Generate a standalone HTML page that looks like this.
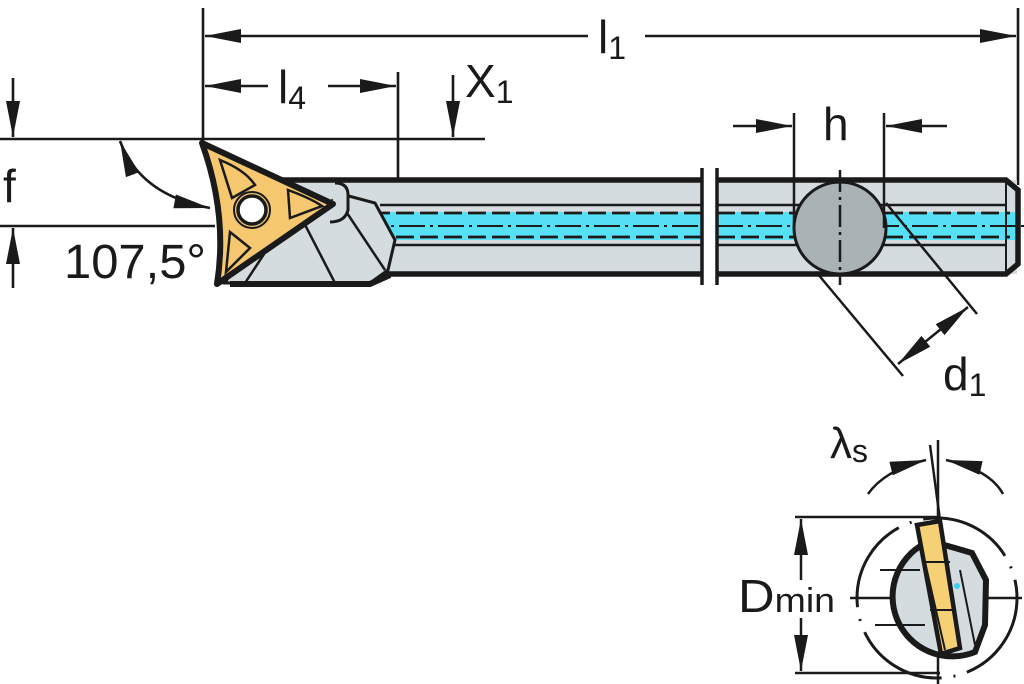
<!DOCTYPE html>
<html><head><meta charset="utf-8"><style>
html,body{margin:0;padding:0;background:#fff;}
svg{display:block;}
text{font-family:"Liberation Sans",sans-serif;fill:#1a1a1a;}
</style></head><body>
<svg width="1024" height="684" viewBox="0 0 1024 684" xmlns="http://www.w3.org/2000/svg">
<defs>
<marker id="aw" viewBox="0 0 36 14" refX="36" refY="7" markerWidth="36" markerHeight="14" markerUnits="userSpaceOnUse" orient="auto-start-reverse"><path d="M0,0 L36,7 L0,14 z" fill="#1a1a1a"/></marker>
</defs>
<g stroke="#1a1a1a" fill="none" stroke-width="2.6">
<line x1="203" y1="8" x2="203" y2="145"/>
<line x1="1018" y1="8" x2="1018" y2="185"/>
<line x1="205" y1="36" x2="588" y2="36" marker-start="url(#aw)"/>
<line x1="645" y1="36" x2="1016" y2="36" marker-end="url(#aw)"/>
<line x1="398" y1="72" x2="398" y2="240"/>
<line x1="205" y1="86" x2="268" y2="86" marker-start="url(#aw)"/>
<line x1="328" y1="86" x2="396" y2="86" marker-end="url(#aw)"/>
<line x1="453" y1="75" x2="453" y2="137" marker-end="url(#aw)"/>
<line x1="453" y1="243" x2="453" y2="183" marker-end="url(#aw)"/>
<line x1="0" y1="139" x2="485" y2="139"/>
<line x1="0" y1="226" x2="215" y2="226"/>
<line x1="13" y1="78" x2="13" y2="137" marker-end="url(#aw)"/>
<line x1="13" y1="288" x2="13" y2="228" marker-end="url(#aw)"/>
<path d="M120,141 Q140,195 210,208" marker-start="url(#aw)" marker-end="url(#aw)"/>
</g>
<rect x="278" y="180" width="424" height="94" fill="#d5dcdf"/>
<rect x="717" y="180" width="300" height="94" fill="#d5dcdf"/>
<rect x="365" y="212" width="337" height="28" fill="#55e0f5"/>
<rect x="717" y="212" width="298" height="28" fill="#55e0f5"/>
<g stroke="#1a1a1a" fill="none">
<path d="M278,180 H702 M717,180 H1006 L1018,190 V264 L1006,274 H717 M702,274 H380" stroke-width="5.5"/>
<line x1="1006" y1="182" x2="1006" y2="272" stroke-width="2"/>
<path d="M380,205 H702 M717,205 H1006 M395,245 H702 M717,245 H1006" stroke-width="2.4"/>
<path d="M372,213 H702 M717,213 H1010 M372,237 H702 M717,237 H1010" stroke-width="2.8" stroke-dasharray="18,6"/>
<path d="M360,226 H702 M717,226 H1024" stroke-width="2" stroke-dasharray="26,5,3,5"/>
<path d="M702,168 V285 M717,168 V285" stroke-width="3.5"/>
<path d="M372,213 V237" stroke-width="2.5"/>
</g>
<path d="M225,283 L245,250 L300,215 L345,195 L375,203 L395,240 L388,270 L370,283 Z" fill="#d5dcdf" stroke="#1a1a1a" stroke-width="3"/>
<path d="M300,215 L335,283 M345,210 L385,270 M245,283 L270,245" stroke="#1a1a1a" stroke-width="2.5" fill="none"/>
<path d="M335,183 Q348,183 348,195 L348,210 Q345,222 330,222" stroke="#1a1a1a" stroke-width="3" fill="#d5dcdf"/>
<path d="M230,284 H370 L390,275" stroke="#1a1a1a" stroke-width="6" fill="none"/>
<path d="M202,143 L333,204 L217,284 Q228,215 202,143 Z" fill="#f5c870" stroke="#1a1a1a" stroke-width="6" stroke-linejoin="round"/>
<path d="M220,160 Q245,170 255,185 L232,198 Z M288,190 Q310,198 322,206 L290,218 Z M230,232 L250,248 Q236,262 226,272 Z" fill="none" stroke="#1a1a1a" stroke-width="2.5"/>
<circle cx="252" cy="210" r="14" fill="#fff" stroke="#1a1a1a" stroke-width="3.5"/>
<circle cx="252" cy="210" r="18" fill="none" stroke="#1a1a1a" stroke-width="2"/>
<circle cx="840" cy="228" r="46" fill="#a9b3b6" stroke="#1a1a1a" stroke-width="3"/>
<g stroke="#1a1a1a" stroke-width="2.5" fill="none">
<line x1="794" y1="113" x2="794" y2="228"/>
<line x1="884" y1="113" x2="884" y2="228"/>
<line x1="733" y1="126" x2="792" y2="126" marker-end="url(#aw)"/>
<line x1="947" y1="126" x2="886" y2="126" marker-end="url(#aw)"/>
<line x1="840" y1="170" x2="840" y2="285" stroke-dasharray="22,5,3,5"/>
<line x1="817" y1="273" x2="903" y2="376"/>
<line x1="886" y1="203" x2="977" y2="314"/>
<line x1="898" y1="364" x2="968" y2="307" marker-start="url(#aw)" marker-end="url(#aw)"/>
</g>
<g stroke="#1a1a1a" fill="none">
<circle cx="937" cy="598" r="80" stroke-width="3" stroke-dasharray="95,12,2,12"/>
<line x1="795" y1="517" x2="940" y2="517" stroke-width="2.5"/>
<line x1="795" y1="673" x2="940" y2="673" stroke-width="2.5"/>
<line x1="938" y1="440" x2="938" y2="684" stroke-width="2.5"/>
<line x1="930" y1="445" x2="940" y2="520" stroke-width="2.5"/>
<line x1="850" y1="598" x2="1022" y2="598" stroke-width="2.5"/>
<line x1="801" y1="580" x2="801" y2="519" stroke-width="2.5" marker-end="url(#aw)"/>
<line x1="801" y1="618" x2="801" y2="671" stroke-width="2.5" marker-end="url(#aw)"/>
<path d="M868,494 Q885,470 926,460" stroke-width="2.5" marker-end="url(#aw)"/>
<path d="M1003,494 Q990,470 946,460" stroke-width="2.5" marker-end="url(#aw)"/>
</g>
<path d="M930,541 A57,57 0 1 0 975,652 L985,625 L986,580 L972,553 L955,548 L930,541 Z" fill="#d5dcdf" stroke="#1a1a1a" stroke-width="6"/>
<path d="M917,525 L940,521 L960,648 L941,654 Z" fill="#f5d074" stroke="#1a1a1a" stroke-width="4.5"/>
<path d="M880,570 H920 M875,625 H925 M925,562 H950 M930,610 H955 M920,540 L945,650 M960,570 L975,645" stroke="#1a1a1a" stroke-width="2"/>
<circle cx="957" cy="586" r="3" fill="#3ad0f0"/>
<text x="598" y="53" font-size="46">l<tspan font-size="32" dy="6">1</tspan></text>
<text x="278" y="103" font-size="46">l<tspan font-size="32" dy="6">4</tspan></text>
<text x="465" y="97" font-size="46">X<tspan font-size="32" dy="6">1</tspan></text>
<text x="3" y="202" font-size="46">f</text>
<text x="64" y="278" font-size="48" textLength="142" lengthAdjust="spacingAndGlyphs">107,5°</text>
<text x="823" y="140" font-size="46">h</text>
<text x="943" y="390" font-size="46">d<tspan font-size="32" dy="6">1</tspan></text>
<text x="830" y="458" font-size="44">λ<tspan font-size="32" dy="4">s</tspan></text>
<text x="738" y="612" font-size="46" textLength="97" lengthAdjust="spacingAndGlyphs">D<tspan font-size="34">min</tspan></text>
</svg>
</body></html>
